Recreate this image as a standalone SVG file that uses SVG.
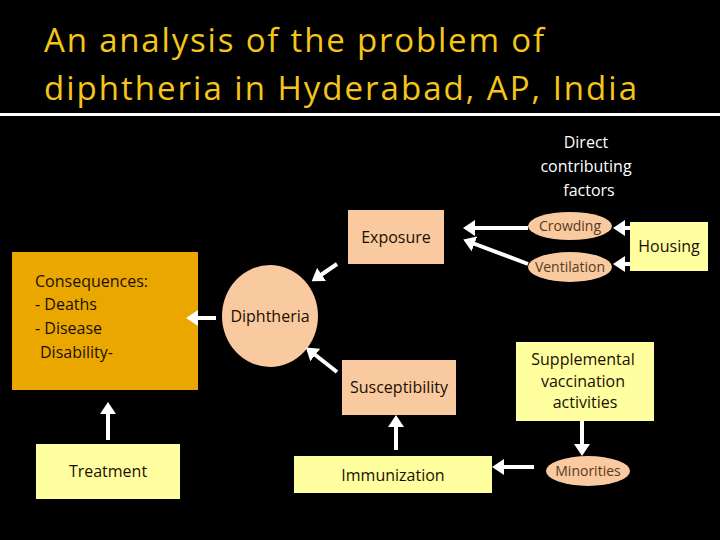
<svg xmlns="http://www.w3.org/2000/svg" width="720" height="540" viewBox="0 0 720 540">
<defs>
<style>
text{font-family:"Open Sans","DejaVu Sans",sans-serif;fill:#1a1000}
.t{fill:#F5C518;font-size:33px}
.peach{fill:#F9C9A0}
.yel{fill:#FFFFA0}
.lbl{font-size:16px}
.sm{font-size:14px;fill:#5a3a20}
.c line{stroke:#fff;stroke-width:4;marker-end:url(#a)}
</style>
<marker id="a" markerWidth="4" markerHeight="4" refX="2" refY="2" orient="auto"><path d="M0,0L3,2L0,4z" fill="#fff"/></marker>
</defs>
<rect width="720" height="540" fill="#000"/>
<g id="title">
<text class="t" x="44" y="52" textLength="500">An analysis of the problem of</text>
<text class="t" x="44" y="100" textLength="593">diphtheria in Hyderabad, AP, India</text>
<rect x="0" y="113" width="720" height="3" fill="#fff"/>
</g>
<g id="direct">
<text x="586" y="148" text-anchor="middle" class="lbl" style="fill:#fff">Direct</text>
<text x="586" y="172" text-anchor="middle" class="lbl" style="fill:#fff">contributing</text>
<text x="589" y="196" text-anchor="middle" class="lbl" style="fill:#fff">factors</text>
</g>
<g id="consequences">
<rect x="12" y="252" width="186" height="138" fill="#EAA700"/>
<text class="lbl" x="35" y="287">Consequences:</text>
<text class="lbl" x="35" y="310">- Deaths</text>
<text class="lbl" x="35" y="334">- Disease</text>
<text class="lbl" x="40" y="358">Disability-</text>
</g>
<g id="treatment"><rect x="36" y="444" width="144" height="55" class="yel"/><text class="lbl" x="108" y="477" text-anchor="middle">Treatment</text></g>
<g id="diphtheria"><ellipse cx="270" cy="316" rx="48" ry="51" class="peach"/><text class="lbl" x="270" y="322" text-anchor="middle">Diphtheria</text></g>
<g id="exposure"><rect x="348" y="210" width="96" height="54" class="peach"/><text class="lbl" x="396" y="243" text-anchor="middle">Exposure</text></g>
<g id="susceptibility"><rect x="342" y="360" width="114" height="55" class="peach"/><text class="lbl" x="399" y="393" text-anchor="middle">Susceptibility</text></g>
<g id="immunization"><rect x="294" y="456" width="198" height="37" class="yel"/><text class="lbl" x="393" y="481" text-anchor="middle">Immunization</text></g>
<g id="crowding"><ellipse cx="570" cy="226" rx="42" ry="14" class="peach"/><text class="sm" x="570" y="231" text-anchor="middle">Crowding</text></g>
<g id="ventilation"><ellipse cx="570" cy="267" rx="42" ry="15" class="peach"/><text class="sm" x="570" y="272" text-anchor="middle">Ventilation</text></g>
<g id="housing"><rect x="630" y="222" width="78" height="49" class="yel"/><text class="lbl" x="669" y="252" text-anchor="middle">Housing</text></g>
<g id="supplemental"><rect x="516" y="342" width="138" height="79" class="yel"/>
<text class="lbl" x="583" y="365" text-anchor="middle">Supplemental</text>
<text class="lbl" x="583" y="387" text-anchor="middle">vaccination</text>
<text class="lbl" x="585" y="408" text-anchor="middle">activities</text></g>
<g id="minorities"><ellipse cx="588" cy="471" rx="42" ry="15" class="peach"/><text class="sm" x="588" y="476" text-anchor="middle">Minorities</text></g>
<g class="c" id="connectors">
<line x1="528" y1="228" x2="467" y2="228"/>
<line x1="528" y1="264" x2="467" y2="241"/>
<line x1="630" y1="228" x2="617" y2="228"/>
<line x1="630" y1="264" x2="617" y2="264"/>
<line x1="337" y1="264" x2="315" y2="279"/>
<line x1="337" y1="372" x2="309" y2="350"/>
<line x1="216" y1="318" x2="190" y2="318"/>
<line x1="396" y1="450" x2="396" y2="419"/>
<line x1="582" y1="421" x2="582" y2="452"/>
<line x1="534" y1="467" x2="496" y2="467"/>
<line x1="108" y1="440" x2="108" y2="406"/>
</g>
</svg>
